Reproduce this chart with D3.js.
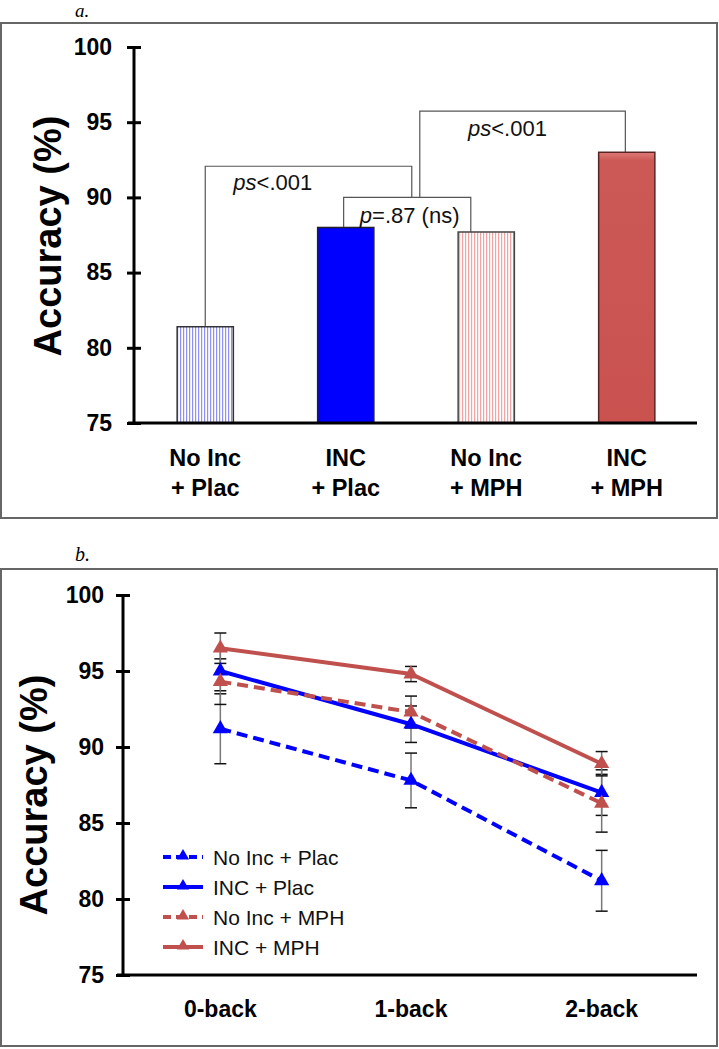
<!DOCTYPE html>
<html><head><meta charset="utf-8">
<script src="https://cdn.jsdelivr.net/npm/d3@7"></script>
<style>
body{margin:0;background:#fff;}
text{font-family:"Liberation Sans",Arial,sans-serif;}
</style></head>
<body><svg id="c" width="719" height="1049"></svg>
<script>
// ---------- data ----------
const barCategories = [["No Inc","+ Plac"],["INC","+ Plac"],["No Inc","+ MPH"],["INC","+ MPH"]];
const barValues = [81.4, 88.0, 87.7, 93.0];
const yTicks = [75, 80, 85, 90, 95, 100];
// brackets: from index, to index, level, left leg bottom value, right leg bottom value
const brackets = [
  {x1:0, x2:1.47, level:92.07, b1:81.4, b2:90.0},
  {x1:0.985, x2:1.89, level:90.0, b1:88.0, b2:87.7},
  {x1:1.527, x2:2.99, level:95.73, b1:90.0, b2:93.0}
];
const bracketLabels = [
  {x:0.2, y:90.5, it:"ps", rest:"<.001"},
  {x:1.87, y:94.1, it:"ps", rest:"<.001"},
  {x:1.1, y:88.3, it:"p", rest:"=.87 (ns)"}
];
const loads = ["0-back","1-back","2-back"];
const seriesNames = ["No Inc + Plac","INC + Plac","No Inc + MPH","INC + MPH"];
const noIncPlac = [91.2, 87.8, 81.2];
const incPlac   = [95.0, 91.5, 87.0];
const noIncMph  = [94.3, 92.3, 86.3];
const incMph    = [96.5, 94.8, 88.9];
const errNoIncPlac = [2.3, 1.8, 2.0];
const errIncPlac   = [1.3, 1.2, 1.5];
const errNoIncMph  = [1.5, 1.05, 1.9];
const errIncMph    = [1.0, 0.5, 0.8];

const BLUE="#0000ff", RED="#c0504d";
const series = [
  {name:seriesNames[0], v:noIncPlac, e:errNoIncPlac, c:BLUE, dash:true},
  {name:seriesNames[1], v:incPlac,   e:errIncPlac,   c:BLUE, dash:false},
  {name:seriesNames[2], v:noIncMph,  e:errNoIncMph,  c:RED,  dash:true},
  {name:seriesNames[3], v:incMph,    e:errIncMph,    c:RED,  dash:false}
];

const svg = d3.select("#c");
svg.append("rect").attr("width",719).attr("height",1049).attr("fill","#fff");
const defs = svg.append("defs");
function stripes(id, color){
  const p = defs.append("pattern").attr("id",id).attr("patternUnits","userSpaceOnUse")
    .attr("width",3).attr("height",10);
  p.append("rect").attr("width",3).attr("height",10).attr("fill","#fff");
  p.append("rect").attr("x",0).attr("width",1.2).attr("height",10).attr("fill",color);
}
stripes("sb","#8f8ff5");
stripes("sr","#f2a3a3");
const g4 = defs.append("linearGradient").attr("id","gr").attr("x1",0).attr("x2",0).attr("y1",0).attr("y2",1);
g4.append("stop").attr("offset","0").attr("stop-color","#e07b78");
g4.append("stop").attr("offset","0.03").attr("stop-color","#cc5956");
g4.append("stop").attr("offset","1").attr("stop-color","#c9524f");

// ---------- frames & panel letters ----------
svg.append("rect").attr("x",1).attr("y",23).attr("width",716).attr("height",495)
  .attr("fill","none").attr("stroke","#666").attr("stroke-width",2);
svg.append("rect").attr("x",1).attr("y",569).attr("width",716).attr("height",477)
  .attr("fill","none").attr("stroke","#666").attr("stroke-width",2);
svg.append("text").attr("x",75).attr("y",17).text("a.")
  .style("font-family","'Liberation Serif',serif").style("font-style","italic").style("font-size","19px");
svg.append("text").attr("x",75).attr("y",561).text("b.")
  .style("font-family","'Liberation Serif',serif").style("font-style","italic").style("font-size","20px");

// ---------- panel a ----------
const xA = d3.scaleBand().domain(d3.range(4)).range([135,697]).paddingInner(0.6).paddingOuter(0.3);
const yA = d3.scaleLinear().domain([75,100]).range([423,47]);
const idxA = d3.scaleLinear().domain([0,1]).range([xA(0)+xA.bandwidth()/2, xA(1)+xA.bandwidth()/2]);
const fills = ["url(#sb)", BLUE, "url(#sr)", "url(#gr)"];
const strokes = ["#333","#222","#444","#5a2424"];

const ga = svg.append("g");
brackets.forEach(b=>{
  const pts = [[idxA(b.x1), yA(b.b1)],[idxA(b.x1), yA(b.level)],[idxA(b.x2), yA(b.level)],[idxA(b.x2), yA(b.b2)]];
  ga.append("path").attr("d", d3.line()(pts)).attr("fill","none").attr("stroke","#555").attr("stroke-width",1.2);
});
ga.selectAll("rect.bar").data(barValues).join("rect").attr("class","bar")
  .attr("x",(d,i)=>xA(i)).attr("width",xA.bandwidth())
  .attr("y",d=>yA(d)).attr("height",d=>yA(75)-yA(d))
  .attr("fill",(d,i)=>fills[i]).attr("stroke",(d,i)=>strokes[i]).attr("stroke-width",1.5);
bracketLabels.forEach(l=>{
  const t = ga.append("text").attr("x",idxA(l.x)).attr("y",yA(l.y)).style("font-size","22px").attr("fill","#111");
  t.append("tspan").style("font-style","italic").text(l.it);
  t.append("tspan").text(l.rest);
});
const axA = ga.append("g").attr("transform","translate(134,0)")
  .call(d3.axisLeft(yA).tickValues(yTicks).tickSize(7).tickPadding(15));
axA.select(".domain").remove();
axA.selectAll(".tick line").attr("x1",-7).attr("x2",7).attr("stroke","#000").attr("stroke-width",3);
axA.selectAll(".tick text").style("font-size","23px").style("font-weight","bold").attr("fill","#000")
  .style("font-family","'Liberation Sans',Arial,sans-serif");
ga.append("line").attr("x1",134).attr("x2",134).attr("y1",yA(100)).attr("y2",yA(75)+1.5).attr("stroke","#000").attr("stroke-width",3);
ga.append("line").attr("x1",128).attr("x2",697).attr("y1",yA(75)).attr("y2",yA(75)).attr("stroke","#000").attr("stroke-width",3);
barCategories.forEach((c,i)=>{
  const cx = xA(i)+xA.bandwidth()/2;
  c.forEach((s,j)=>{
    ga.append("text").attr("x",cx).attr("y",466+30*j).attr("text-anchor","middle")
      .style("font-size","23.5px").style("font-weight","bold").text(s);
  });
});
ga.append("text").attr("transform","translate(48,236) rotate(-90)").attr("text-anchor","middle")
  .attr("dominant-baseline","central").style("font-size","38px").style("font-weight","bold").text("Accuracy (%)");

// ---------- panel b ----------
const xB = d3.scalePoint().domain(loads).range([125,697]).padding(0.5);
const yB = d3.scaleLinear().domain([75,100]).range([975,595]);
const gb = svg.append("g");
const axB = gb.append("g").attr("transform","translate(123,0)")
  .call(d3.axisLeft(yB).tickValues(yTicks).tickSize(7).tickPadding(12));
axB.select(".domain").remove();
axB.selectAll(".tick line").attr("x1",-7).attr("x2",7).attr("stroke","#000").attr("stroke-width",3);
axB.selectAll(".tick text").style("font-size","23px").style("font-weight","bold").attr("fill","#000")
  .style("font-family","'Liberation Sans',Arial,sans-serif");
gb.append("line").attr("x1",123).attr("x2",123).attr("y1",yB(100)).attr("y2",yB(75)+1.5).attr("stroke","#000").attr("stroke-width",3);
gb.append("line").attr("x1",117).attr("x2",697).attr("y1",yB(75)).attr("y2",yB(75)).attr("stroke","#000").attr("stroke-width",3);
loads.forEach(l=>{
  gb.append("text").attr("x",xB(l)).attr("y",1017).attr("text-anchor","middle")
    .style("font-size","23px").style("font-weight","bold").text(l);
});
gb.append("text").attr("transform","translate(34,795) rotate(-90)").attr("text-anchor","middle")
  .attr("dominant-baseline","central").style("font-size","38px").style("font-weight","bold").text("Accuracy (%)");

series.forEach(s=>{
  s.v.forEach((v,i)=>{
    const x = xB(loads[i]);
    gb.append("line").attr("x1",x).attr("x2",x).attr("y1",yB(v+s.e[i])).attr("y2",yB(v-s.e[i]))
      .attr("stroke","#777").attr("stroke-width",1.5);
    [v+s.e[i], v-s.e[i]].forEach(e=>{
      gb.append("line").attr("x1",x-6).attr("x2",x+6).attr("y1",yB(e)).attr("y2",yB(e))
        .attr("stroke","#111").attr("stroke-width",1.5);
    });
  });
});
const line = d3.line().x((d,i)=>xB(loads[i])).y(d=>yB(d));
const tri = d3.symbol().type(d3.symbolTriangle).size(100);
series.forEach(s=>{
  gb.append("path").attr("d",line(s.v)).attr("fill","none").attr("stroke",s.c).attr("stroke-width",4)
    .attr("stroke-dasharray", s.dash ? "11,6" : null);
});
series.forEach(s=>{
  s.v.forEach((v,i)=>{
    gb.append("path").attr("d",tri()).attr("transform",`translate(${xB(loads[i])},${yB(v)})`).attr("fill",s.c);
  });
});
series.forEach((s,k)=>{
  const y = 857 + 30*k;
  gb.append("line").attr("x1",163).attr("x2",203).attr("y1",y).attr("y2",y).attr("stroke",s.c).attr("stroke-width",4)
    .attr("stroke-dasharray", s.dash ? "8,5" : null);
  gb.append("path").attr("d",d3.symbol().type(d3.symbolTriangle).size(65)()).attr("transform",`translate(183,${y-1})`).attr("fill",s.c);
  gb.append("text").attr("x",213).attr("y",y+8).style("font-size","21px").attr("fill","#111").text(s.name);
});
</script></body></html>
